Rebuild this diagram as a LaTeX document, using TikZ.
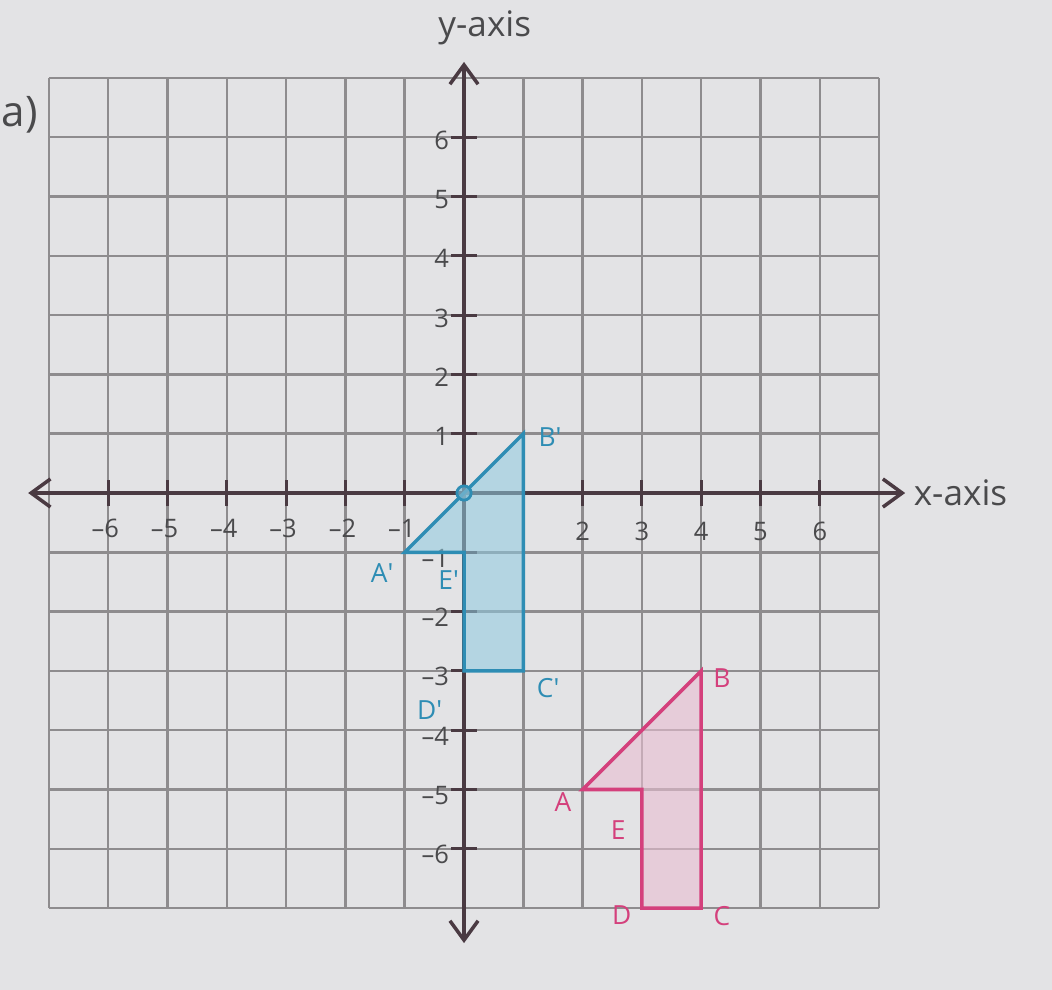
\documentclass[tikz,border=0pt]{standalone}
\usepackage{fontspec}
\setmainfont{Open Sans}
\usetikzlibrary{arrows.meta}
\definecolor{paper}{HTML}{E3E3E5}
\definecolor{gridgray}{HTML}{8E8C8E}
\definecolor{axiscol}{HTML}{4A3A42}
\definecolor{numcol}{HTML}{4A4A4C}
\definecolor{bluestroke}{HTML}{2E8DB4}
\definecolor{bluefill}{HTML}{8FCBE0}
\definecolor{pinkstroke}{HTML}{D4407C}
\definecolor{pinkfill}{HTML}{E8BED2}
\tikzset{
  gridline/.style={draw=gridgray, line width=1.4pt},
  axisline/.style={draw=axiscol, line width=2.3pt, {Straight Barb[length=11pt,width=16pt,line width=2pt]}-{Straight Barb[length=11pt,width=16pt,line width=2pt]}},
  tickline/.style={draw=axiscol, line width=1.8pt},
  numlabel/.style={text=numcol, font=\fontsize{14.5}{16}\selectfont, inner sep=1pt},
  axislabel/.style={text=numcol, font=\fontsize{20}{22}\selectfont, inner sep=1pt},
  blueshape/.style={draw=bluestroke, line width=2pt, fill=bluefill, fill opacity=0.55, line join=miter},
  pinkshape/.style={draw=pinkstroke, line width=2pt, fill=pinkfill, fill opacity=0.6, line join=miter},
  bluelabel/.style={text=bluestroke, font=\fontsize{15}{17}\selectfont, inner sep=1pt},
  pinklabel/.style={text=pinkstroke, font=\fontsize{15}{17}\selectfont, inner sep=1pt},
}
\begin{document}
\begin{tikzpicture}[x=1.186cm, y=1.186cm]
\fill[paper] (-7.825,-8.381) rectangle (9.916,8.314);
\useasboundingbox (-7.825,-8.381) rectangle (9.916,8.314);
% part label
\node[text=numcol, font=\fontsize{24}{26}\selectfont, anchor=west, inner sep=0pt] (part) at (-7.80,6.37) {a)};
% grid
\draw[gridline, step=1] (-7,-7) grid (7,7);
% axes
\coordinate (xl) at (-7.35,0);
\coordinate (xr) at (7.44,0);
\coordinate (yb) at (0,-7.59);
\coordinate (yt) at (0,7.27);
\draw[axisline] (xl) -- (xr);
\draw[axisline] (yb) -- (yt);
\node[axislabel, anchor=west] (xname) at (7.55,0) {x-axis};
\node[axislabel] (yname) at (0.35,7.84) {y-axis};
% ticks
\foreach \i in {-6,...,-1,1,2,...,6} {
  \draw[tickline] (\i,-0.22) -- (\i,0.22);
  \draw[tickline] (-0.22,\i) -- (0.22,\i);
}
% x labels
\foreach \i in {1,...,6} {
  \node[numlabel] (xn\i) at (-\i-0.05,-0.6) {–\i};
}
\foreach \i in {2,...,6} {
  \node[numlabel] (xp\i) at (\i,-0.65) {\i};
}
% y labels
\foreach \i in {1,...,6} {
  \node[numlabel, anchor=east] (yp\i) at (-0.22,\i-0.05) {\i};
  \node[numlabel, anchor=east] (yn\i) at (-0.22,-\i-0.1) {–\i};
}
% blue image shape
\coordinate (Ap) at (-1,-1);
\coordinate (Bp) at (1,1);
\coordinate (Cp) at (1,-3);
\coordinate (Dp) at (0,-3);
\coordinate (Ep) at (0,-1);
\draw[blueshape] (Ap) -- (Bp) -- (Cp) -- (Dp) -- (Ep) -- cycle;
\coordinate (O) at (0,0);
\draw[draw=bluestroke, line width=1.6pt, fill=bluestroke!60, fill opacity=0.7] (O) circle (0.12);
\node[bluelabel] (lAp) at (-1.38,-1.35) {A\textquotesingle};
\node[bluelabel] (lBp) at (1.45,0.94) {B\textquotesingle};
\node[bluelabel] (lCp) at (1.42,-3.29) {C\textquotesingle};
\node[bluelabel] (lDp) at (-0.58,-3.66) {D\textquotesingle};
\node[bluelabel] (lEp) at (-0.26,-1.47) {E\textquotesingle};
% pink original shape
\coordinate (A) at (2,-5);
\coordinate (B) at (4,-3);
\coordinate (C) at (4,-7);
\coordinate (D) at (3,-7);
\coordinate (E) at (3,-5);
\draw[pinkshape] (A) -- (B) -- (C) -- (D) -- (E) -- cycle;
\node[pinklabel] (lA) at (1.67,-5.21) {A};
\node[pinklabel] (lB) at (4.35,-3.12) {B};
\node[pinklabel] (lC) at (4.35,-7.13) {C};
\node[pinklabel] (lD) at (2.66,-7.12) {D};
\node[pinklabel] (lE) at (2.6,-5.68) {E};
\end{tikzpicture}
\end{document}
